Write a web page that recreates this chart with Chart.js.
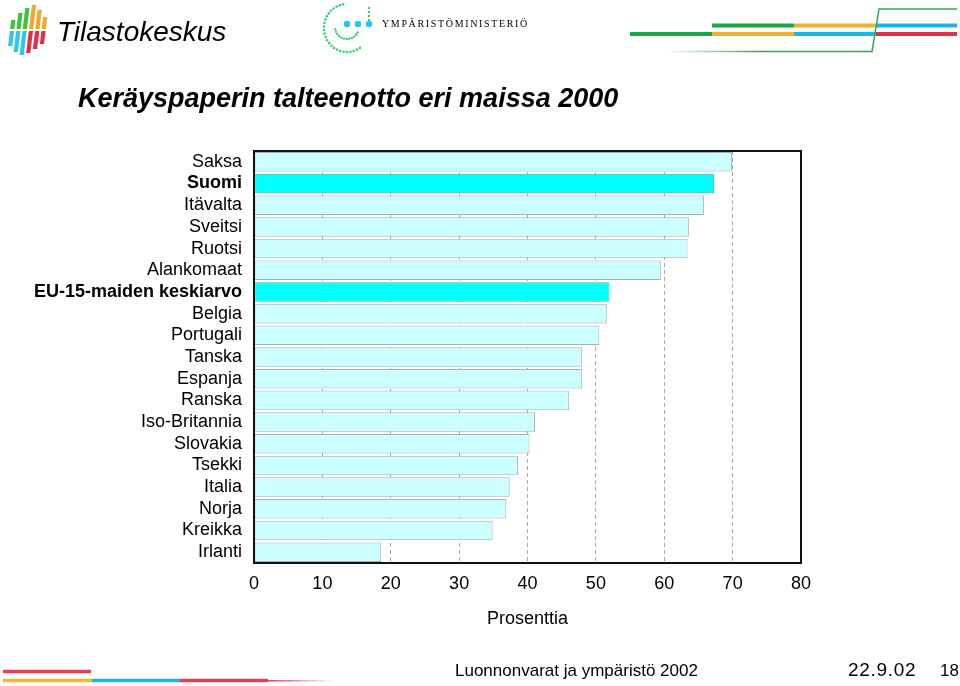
<!DOCTYPE html>
<html><head><meta charset="utf-8">
<script src="https://cdn.jsdelivr.net/npm/chart.js@4/dist/chart.umd.min.js"></script>
<style>
html,body{margin:0;padding:0;background:#fff;width:960px;height:686px;overflow:hidden;position:relative}
canvas{position:absolute;left:0;top:0}
.t{position:absolute;white-space:nowrap;color:#000}
.ft{font-family:"Liberation Sans",Arial,sans-serif;font-size:17px;line-height:20px}
</style></head><body>
<canvas id="deco" width="960" height="686"></canvas>
<canvas id="c" width="960" height="686"></canvas>
<div class="t" style="left:57px;top:17px;font:italic 28px/30px 'Liberation Sans',sans-serif;">Tilastokeskus</div>
<div class="t" style="left:382px;top:18px;font:10px/12px 'Liberation Serif','DejaVu Serif',serif;letter-spacing:1.65px;">YMPÄRISTÖMINISTERIÖ</div>
<div class="t" style="left:78px;top:84px;font:italic bold 27px/29px 'Liberation Sans',sans-serif;">Keräyspaperin talteenotto eri maissa 2000</div>
<div class="t ft" style="left:455px;top:661px;">Luonnonvarat ja ympäristö 2002</div>
<div class="t ft" style="left:848px;top:660px;font-size:19px;letter-spacing:0.7px;">22.9.02</div>
<div class="t ft" style="left:940px;top:661px;">18</div>
<script>
const categories = ['Saksa','Suomi','Itävalta','Sveitsi','Ruotsi','Alankomaat','EU-15-maiden keskiarvo','Belgia','Portugali','Tanska','Espanja','Ranska','Iso-Britannia','Slovakia','Tsekki','Italia','Norja','Kreikka','Irlanti'];
const values = [69.9, 67.3, 65.8, 63.6, 63.4, 59.5, 52.0, 51.6, 50.5, 48.0, 48.0, 46.1, 41.1, 40.3, 38.6, 37.4, 36.9, 34.9, 18.6];
const highlighted = ['Suomi','EU-15-maiden keskiarvo'];
const xMin = 0, xMax = 80, xStep = 10;
const axisTitle = 'Prosenttia';

const FONT = "'Liberation Sans',Arial,sans-serif";

// decorations (non-data)
(function(){
  const c = document.getElementById('deco').getContext('2d');
  // Tilastokeskus logo stripes
  const tops = [20, 13, 8, 5, 10, 17];
  const bots = [46, 52, 55, 53, 49, 44];
  for (let i = 0; i < 6; i++) {
    const x = 10 + i * 6.3;
    const lean = 0.12;
    const seg = (y1, y2, col) => {
      c.fillStyle = col;
      c.beginPath();
      c.moveTo(x + (30 - y1) * lean, y1);
      c.lineTo(x + 4.2 + (30 - y1) * lean, y1);
      c.lineTo(x + 4.2 + (30 - y2) * lean, y2);
      c.lineTo(x + (30 - y2) * lean, y2);
      c.closePath(); c.fill();
    };
    seg(tops[i], 29, i < 3 ? '#3cc43c' : '#f0a830');
    seg(31, bots[i], i < 3 ? '#30c8e8' : '#e0304a');
  }
  // Ympäristöministeriö logo
  c.fillStyle = '#3cd070';
  const cx = 347, cy = 28;
  for (let a = -100; a >= -305; a -= 8.5) {
    const r = a * Math.PI / 180;
    c.beginPath(); c.arc(cx + 23 * Math.cos(r), cy + 24 * Math.sin(r), 1.3, 0, 2*Math.PI); c.fill();
  }
  for (let y = 8; y <= 24; y += 4) { c.beginPath(); c.arc(369, y, 1.2, 0, 2*Math.PI); c.fill(); }
  for (let a = 170; a >= 20; a -= 13) {
    const r = a * Math.PI / 180;
    c.beginPath(); c.arc(cx + 12 * Math.cos(r), cy - 1 + 12 * Math.sin(r), 1.2, 0, 2*Math.PI); c.fill();
  }
  c.fillStyle = '#1ec8f0';
  [347, 358, 369].forEach(x => { c.beginPath(); c.arc(x, 24, 3.2, 0, 2*Math.PI); c.fill(); });
  // top-right lines
  const bar = (x1, x2, y, col, w) => { c.fillStyle = col; c.fillRect(x1, y - w/2, x2 - x1, w); };
  bar(712, 794, 25.5, '#1aa84a', 4); bar(794, 876, 25.5, '#f0b030', 4); bar(876, 957, 25.5, '#18b4e8', 4);
  bar(630, 712, 34, '#1aa84a', 4); bar(712, 794, 34, '#f0b030', 4); bar(794, 876, 34, '#18b4e8', 4); bar(876, 957, 34, '#e0304a', 4);
  const g = c.createLinearGradient(665, 0, 760, 0);
  g.addColorStop(0, 'rgba(40,170,90,0)'); g.addColorStop(1, 'rgba(40,170,90,1)');
  c.strokeStyle = g; c.lineWidth = 1.5;
  c.beginPath(); c.moveTo(665, 51.5); c.lineTo(760, 51.5); c.stroke();
  c.strokeStyle = '#28aa5a';
  c.beginPath(); c.moveTo(760, 51.5); c.lineTo(872, 51.5); c.lineTo(879, 9); c.lineTo(957, 9); c.stroke();
  // footer lines
  bar(3, 91, 671.5, '#e0405a', 3.5);
  bar(3, 92, 680.5, '#f0b830', 3.5); bar(92, 180, 680.5, '#18b8e8', 3.5); bar(180, 268, 680.5, '#e0405a', 3.5);
  const g2 = c.createLinearGradient(268, 0, 335, 0);
  g2.addColorStop(0, 'rgba(200,80,110,1)'); g2.addColorStop(1, 'rgba(200,80,110,0)');
  c.fillStyle = g2; c.fillRect(268, 680, 67, 1.6);
})();

const frame = {
  id: 'frame',
  afterDraw(chart) {
    const {ctx, chartArea: a} = chart;
    ctx.save();
    ctx.strokeStyle = '#111'; ctx.lineWidth = 2;
    ctx.strokeRect(a.left, a.top, a.right - a.left, a.bottom - a.top);
    ctx.restore();
  }
};

new Chart(document.getElementById('c'), {
  type: 'bar',
  data: {
    labels: categories,
    datasets: [{
      data: values,
      backgroundColor: categories.map(c => highlighted.includes(c) ? '#00FFFF' : '#CCFFFF'),
      borderColor: categories.map(c => highlighted.includes(c) ? '#3AB0B0' : '#A4B0B0'),
      borderWidth: 1,
      borderSkipped: false,
      barPercentage: 0.9,
      categoryPercentage: 1
    }]
  },
  options: {
    indexAxis: 'y',
    responsive: false,
    animation: false,
    events: [],
    layout: { padding: { left: 0, top: 151, right: 159, bottom: 0 } },
    plugins: { legend: { display: false }, tooltip: { enabled: false } },
    scales: {
      x: {
        min: xMin, max: xMax,
        ticks: { stepSize: xStep, color: '#000', font: { family: FONT, size: 18 }, padding: 10 },
        grid: { drawTicks: false, lineWidth: 1,
          color: ctx => (ctx.tick && (ctx.tick.value === xMin || ctx.tick.value === xMax)) ? 'rgba(0,0,0,0)' : '#A8A8A8' },
        border: { display: false, dash: [4, 3] },
        title: { display: true, text: axisTitle, color: '#000', font: { family: FONT, size: 18 }, padding: { top: 0, bottom: 56 } },
        afterFit: s => { s.height = 123; }
      },
      y: {
        ticks: { color: '#000', autoSkip: false, padding: 12,
          font: ctx => ({ family: FONT, size: 18, weight: highlighted.includes(categories[ctx.index]) ? 'bold' : 'normal' }) },
        grid: { display: false, drawTicks: false },
        border: { display: false },
        afterFit: s => { s.width = 254; }
      }
    }
  },
  plugins: [frame]
});
</script>
</body></html>
